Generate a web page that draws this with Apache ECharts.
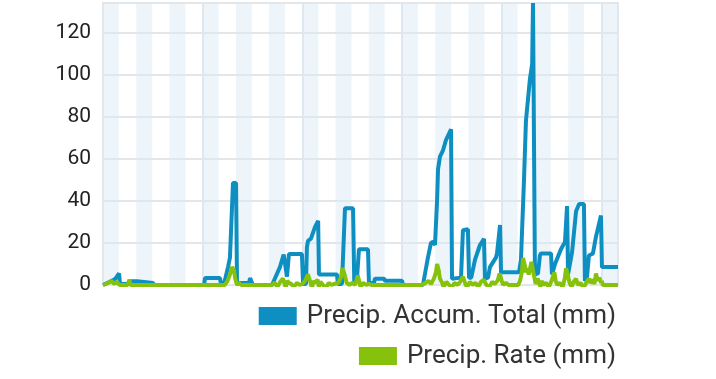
<!DOCTYPE html>
<html>
<head>
<meta charset="utf-8">
<script src="https://cdn.jsdelivr.net/npm/echarts@6/dist/echarts.min.js"></script>
<style>
html,body{margin:0;padding:0;background:#fff;}
#c{width:716px;height:379px;}
</style>
</head>
<body>
<div id="c"></div>
<script>
// hours since start of period
var seriesNames = ['Precip. Accum. Total (mm)', 'Precip. Rate (mm)'];
var yTicks = [0, 20, 40, 60, 80, 100, 120];
var dayCount = 16;

var accumTotal = [
  [0,0],[0.7,0.5],[6.5,2],[9,3],[11.6,5.5],[12.3,0.5],[18.1,0.5],[18.8,1.8],[24.6,1.8],[25.3,1],[36.1,1],[36.8,0],
  [73,0],[73.7,3.3],[84.5,3.3],[85.2,0.5],[87.4,0.5],[90.3,8.5],[91.7,13],[93.9,48.5],[96.1,48.5],[96.8,0.5],[99,1],[105.5,1],[106.2,3.3],[107.6,3.3],[108.3,0],
  [122.1,0],[127.8,8.5],[130.5,14.5],[131.5,14.5],[132.9,4],[134.3,14.7],[143.7,14.7],[144.5,0.5],[146.6,0.5],[147.3,18],[148.1,21],[150.2,22],[153.1,27.5],[155.4,30.5],[156,5],[169,5],[169.7,0.5],[172.6,0.5],[174.8,36.5],[180.6,36.5],[181.5,1],[183.5,3.5],[184.9,17],[191.4,17],[192.1,1],[195.7,1],[196.4,3],[203,3],[203.7,2],[216,2],[216.7,0],
  [231.1,0],[234.7,13],[236.9,20],[238.4,20.5],[239.8,19],[241.3,40],[242,55],[243.4,61],[245.6,64],[247.8,69],[251.4,74],[252.1,3],[258.6,3.5],[260,26],[263.6,26.5],[264.4,3.5],[266,3.5],[268.7,12],[272.3,19],[275.2,22],[275.9,3],[278.1,3.5],[279.5,8.5],[283.8,13],[284.6,15],[286.8,28.5],[287.5,6],[300.5,6],
  [301.9,12],[304.1,50],[305.5,78],[308.4,98],[310,105],[310.6,134],[311.3,134],[312,5],[314.2,5.5],[315.6,14],[316.3,15],[323.6,15],[324.3,5],[326.5,10],[330.8,17],[333.7,20.5],[335.2,37.5],[335.9,5],[337,5.5],[338.8,15.5],[341.7,35],[343.9,38.5],[347.4,38.5],[348.1,2],[349.5,3],[351,14],[353.9,15],[356.1,23],[359.7,33],[360.4,8.5],[372,8.5]
];

var precipRate = [
  [0,0],[4,1],[6,2],[8,0.5],[10,1.5],[12,0],[18,0],[19,2.5],[20,0],[72,0],[88,0],[90,2],[91.7,5],[93.2,8.5],[94.6,7],[95.5,3],[96.8,0],[98,1],[100,0],
  [122,0],[124,1],[126,-1],[128,1.5],[130,3],[131,1],[132,-1.5],[133,2],[134.3,1],[136,0.5],[138,-1],[140,1],[142,0],[144,0.5],[146,2],[148,5],[149,3],[150,1],[151,-1.5],[152,2],[153,1],[155,2.5],[156,-1],[157,1.5],[159,0],[161,-1.5],[163,1],[165,0],[167,0.5],[170,1],[172,4],[173,8],[174.5,5],[176,1],[178,0],[180,1],[182,0],[183,2],[184,4.5],[185,2],[186,-1],[188,1],[190,0],[192,0.5],[194,0],
  [230,0],[233,1],[235,2],[237,0.5],[239,3],[240.5,6],[241.3,10],[242.5,7],[243.4,3],[245,1],[246,-1],[248,1.5],[250,0],[252,-1],[254,1],[256,0],[258,1.5],[260,4],[261,2],[262,0],[263,-1],[265,1.5],[267,0],[269,1],[271,-1],[273,1.5],[275,2.5],[277,0],[279,-1],[281,1.5],[283,0.5],[285,2],[286.5,5.5],[288,2],[289,0],[291,1],[293,0],[300,0],
  [301.2,2],[302.6,6],[303.4,12.8],[304.8,9],[305.5,6],[306.2,8],[307.5,5],[308.5,8],[309.5,11],[310.6,7],[311.5,4],[312.5,0.5],[314,3],[315,1],[316,-1],[317,2],[318,0],[320,1],[322,-1],[324,2],[326,6],[327,2],[328,0],[330,1],[332,-1],[333.5,3],[334.5,8],[336,4],[337,1],[338.5,-1],[340,1.5],[341.7,3],[343,0],[345,1],[347,-1.5],[349,1],[351,3],[352,1],[353.9,2.5],[355,0.5],[356.1,5.5],[357.3,2],[358.5,3.5],[359.7,1],[360.4,2],[361,0],[372,0]
];

var bands = [];
for (var d = 0; d < dayCount; d++) {
  bands.push([{ xAxis: d * 24 }, { xAxis: Math.min(d * 24 + 11.5, 372) }]);
}

var legendText = { fontSize: 26, color: '#333', fontFamily: 'Roboto', lineHeight: 30, padding: [0, 0, 0, 5] };

var chart = echarts.init(document.getElementById('c'));
chart.setOption({
  animation: false,
  backgroundColor: '#ffffff',
  grid: { left: 103, right: 98, top: 3, bottom: 94, show: true, borderColor: '#e4e7ea', borderWidth: 2, backgroundColor: 'transparent' },
  xAxis: {
    type: 'value', min: 0, max: 372, interval: 72,
    axisLine: { show: false }, axisTick: { show: false }, axisLabel: { show: false },
    splitLine: { show: true, lineStyle: { color: '#e4e7ea', width: 2 } }
  },
  yAxis: {
    type: 'value', min: 0, max: 134, interval: 20,
    axisLine: { show: false }, axisTick: { show: false },
    axisLabel: {
      color: '#222', fontSize: 21, fontFamily: 'Roboto', margin: 12,
      formatter: function (v) { return yTicks.indexOf(v) >= 0 ? String(v) : ''; }
    },
    splitLine: { show: true, lineStyle: { color: '#e4e7ea', width: 2 } }
  },
  legend: [
    {
      data: [seriesNames[0]], right: 100, top: 301, orient: 'vertical', padding: 0,
      itemWidth: 38, itemHeight: 18, icon: 'rect', textStyle: legendText
    },
    {
      data: [seriesNames[1]], right: 100, top: 341, orient: 'vertical', padding: 0,
      itemWidth: 38, itemHeight: 18, icon: 'rect', textStyle: legendText
    }
  ],
  series: [
    {
      type: 'line', name: '_bands', data: [], silent: true, z: 1,
      markArea: { silent: true, itemStyle: { color: 'rgba(214,232,247,0.45)' }, data: bands }
    },
    {
      type: 'line', name: seriesNames[0], data: accumTotal, showSymbol: false, z: 3,
      lineStyle: { color: '#0e8fc2', width: 4 }, itemStyle: { color: '#0e8fc2' }
    },
    {
      type: 'line', name: seriesNames[1], data: precipRate, showSymbol: false, z: 4,
      lineStyle: { color: '#86c20c', width: 4 }, itemStyle: { color: '#86c20c' }
    }
  ]
});
</script>
</body>
</html>
